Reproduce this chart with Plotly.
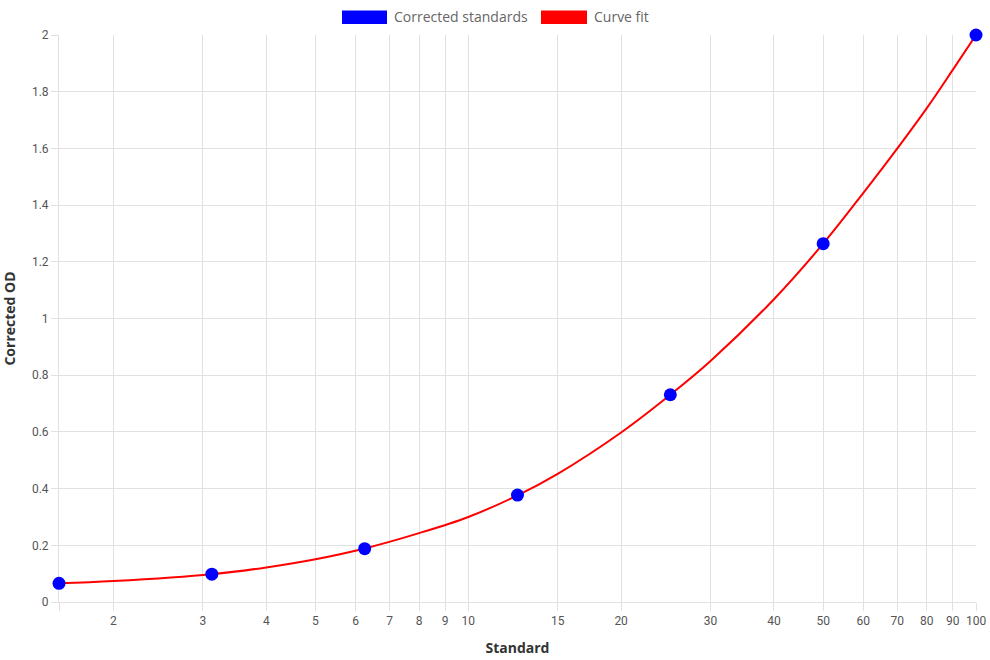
import plotly.graph_objects as go
import math

# Data
std_x = [1.5625, 3.125, 6.25, 12.5, 25, 50, 100]
std_y = [0.066, 0.098, 0.188, 0.377, 0.731, 1.264, 2.0]

fit_x = [1.5625, 2, 3.125, 4, 5, 6.25, 8, 10, 12.5, 15, 20, 25, 30, 40, 50, 60, 70, 80, 90, 100]
fit_y = [0.066, 0.074, 0.098, 0.122, 0.151, 0.189, 0.243, 0.300, 0.376, 0.452, 0.598, 0.731,
         0.850, 1.068, 1.264, 1.443, 1.600, 1.742, 1.877, 2.0]

x_tickvals = [1.5625, 2, 3, 4, 5, 6, 7, 8, 9, 10, 15, 20, 30, 40, 50, 60, 70, 80, 90, 100]
x_ticktext = ["", "2", "3", "4", "5", "6", "7", "8", "9", "10", "15", "20", "30", "40", "50",
              "60", "70", "80", "90", "100"]

legend_names = ["Corrected standards", "Curve fit"]
legend_colors = ["#0000ff", "#ff0000"]

W, H = 990, 660
ML, MR, MT, MB = 59, 14, 35, 58
pw, ph = W - ML - MR, H - MT - MB

grid = "#e1e1e1"
tickfont = dict(family="Roboto, Arial, sans-serif", size=12, color="#555555")
labfont = dict(family="Open Sans, Lato, sans-serif", size=14, color="#666666")
titlefont = dict(family="Open Sans, Lato, sans-serif", size=14, color="#333333")

fig = go.Figure()
fig.add_trace(go.Scatter(x=fit_x, y=fit_y, mode="lines", name=legend_names[1],
                         line=dict(color=legend_colors[1], width=2, shape="spline", smoothing=1.0),
                         showlegend=False, hoverinfo="skip", cliponaxis=False))
fig.add_trace(go.Scatter(x=std_x, y=std_y, mode="markers", name=legend_names[0],
                         marker=dict(color=legend_colors[0], size=13, line=dict(width=0)),
                         showlegend=False, cliponaxis=False))

# Custom legend (wide swatches like the original)
def px_to_paper_x(px):
    return (px - ML) / pw

def px_to_paper_y(py):
    return (H - MB - py) / ph

sw = [(342, 387, 392), (541, 587, 592)]
for (x0, x1, tx), name, col in zip(sw, legend_names, legend_colors):
    fig.add_shape(type="rect", xref="paper", yref="paper",
                  x0=px_to_paper_x(x0), x1=px_to_paper_x(x1),
                  y0=px_to_paper_y(24), y1=px_to_paper_y(10.5),
                  fillcolor=col, line=dict(width=0))
    fig.add_annotation(text=name, xref="paper", yref="paper",
                       x=px_to_paper_x(tx), y=px_to_paper_y(17),
                       xanchor="left", yanchor="middle", showarrow=False,
                       font=labfont)

eps = 1e-6
fig.update_xaxes(type="log", range=[math.log10(1.5625) - eps, 2 + eps],
                 tickvals=x_tickvals, ticktext=x_ticktext,
                 showgrid=True, gridcolor=grid, gridwidth=1,
                 ticks="outside", ticklen=8, tickcolor=grid,
                 showline=True, linecolor=grid, linewidth=1,
                 tickfont=tickfont, tickangle=0, ticklabelstandoff=0,
                 automargin=False, layer="below traces",
                 title=dict(text="<b>Standard</b>", font=titlefont))
fig.update_yaxes(range=[0 - eps, 2 + eps], dtick=0.2, tick0=0,
                 showgrid=True, gridcolor=grid, gridwidth=1,
                 ticks="outside", ticklen=7, tickcolor=grid,
                 showline=True, linecolor=grid, linewidth=1,
                 zeroline=False, tickfont=tickfont, automargin=False,
                 layer="below traces",
                 title=dict(text="<b>Corrected OD</b>", font=titlefont))

fig.update_layout(width=W, height=H, margin=dict(l=ML, r=MR, t=MT, b=MB),
                  paper_bgcolor="white", plot_bgcolor="white", showlegend=False)

fig.write_html("out.html")
